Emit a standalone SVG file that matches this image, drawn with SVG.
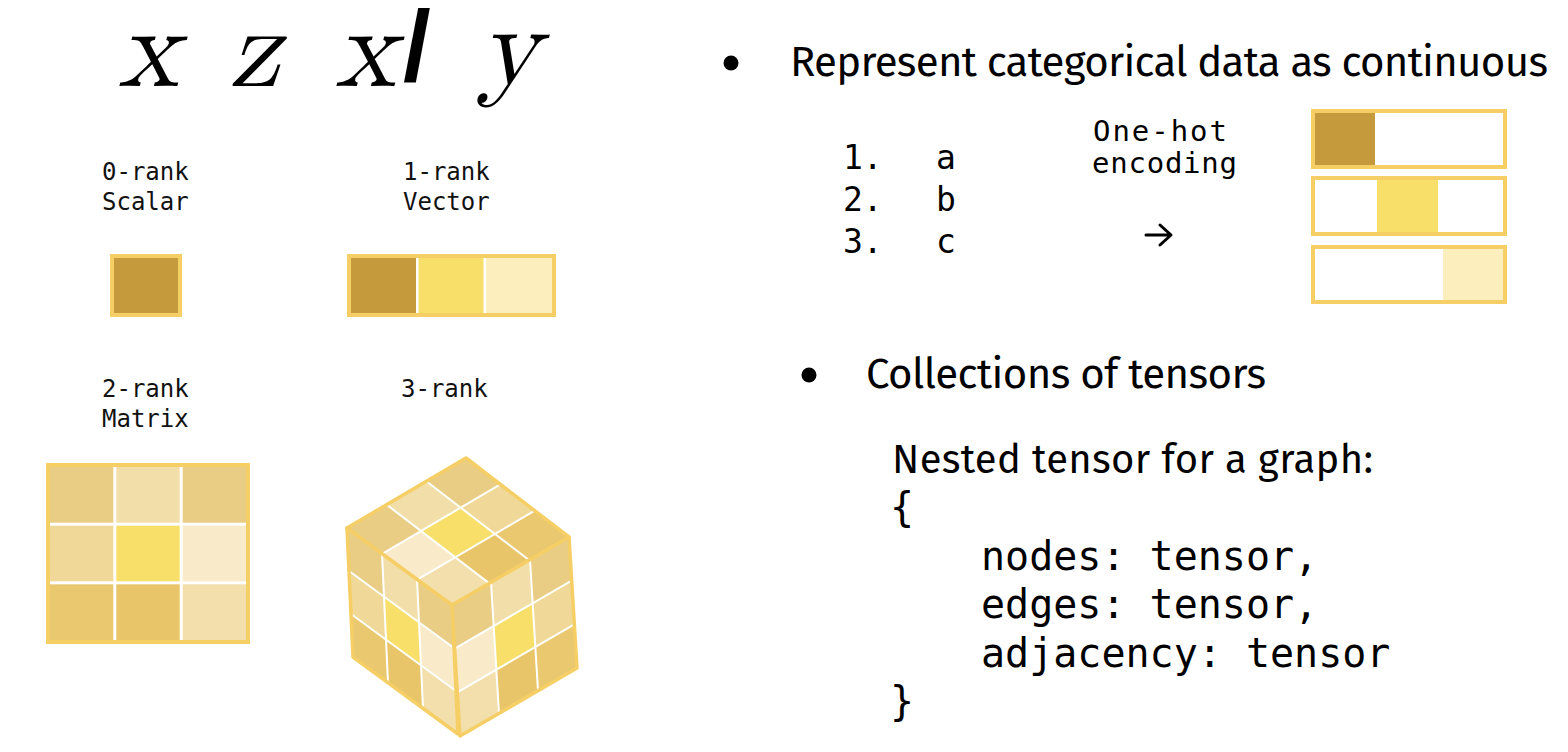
<svg xmlns="http://www.w3.org/2000/svg" width="1568" height="752" viewBox="0 0 1568 752">
<style>
.math{font-family:"Latin Modern Math","Latin Modern Roman","CMU Serif","Liberation Serif",Tinos,"Times New Roman","Noto Serif","DejaVu Serif",serif;font-style:italic;font-size:115px;fill:#000}
.lbl{font-family:"DejaVu Sans Mono","Liberation Mono",monospace;font-size:24px;fill:#111}
.mono{font-family:"DejaVu Sans Mono","Liberation Mono",monospace;fill:#000}
.sans{font-family:"Fira Sans",Lato,"Noto Sans",sans-serif;fill:#000}
.bd{fill:none;stroke:#f5cf66;stroke-width:4}
.dk{fill:#c49a3c}.ye{fill:#f7df6a}.lt{fill:#fcefbd}
.c1{fill:#e9cd84}.c2{fill:#f2dea8}.c3{fill:#f0d898}.c4{fill:#f7df6a}.c5{fill:#f9ebca}.c6{fill:#e9c870}.c7{fill:#e8c568}.c8{fill:#f3dfac}
.gl{stroke:#ffffff;stroke-width:2;fill:none;vector-effect:non-scaling-stroke}
.fo{stroke:#f5cf66;stroke-width:3.5;fill:none;stroke-linejoin:round;vector-effect:non-scaling-stroke}
.prime{font-family:"Liberation Sans","DejaVu Sans",Arial,sans-serif;font-weight:bold;font-size:100px;fill:#000}
</style>
<defs>
<g id="grid">
<path class="gl" d="M1 0V3M2 0V3M0 1H3M0 2H3"/>
<rect class="fo" x="0" y="0" width="3" height="3"/>
</g>
</defs>

<g id="math-symbols">
<text class="math" x="118" y="86">x</text>
<text class="math" x="229" y="86">z</text>
<text class="math" x="335" y="86">x</text>
<text class="prime" x="417" y="81" text-anchor="middle">/</text>
<text class="math" x="479" y="84">y</text>
</g>

<g id="scalar">
<text class="lbl" x="102" y="180">0-rank</text>
<text class="lbl" x="102" y="210">Scalar</text>
<rect class="dk" x="112" y="256" width="68" height="59"/>
<rect class="bd" x="112" y="256" width="68" height="59"/>
</g>

<g id="vector">
<text class="lbl" x="403" y="180">1-rank</text>
<text class="lbl" x="403" y="210">Vector</text>
<rect class="dk" x="351" y="258" width="65" height="55"/>
<rect class="ye" x="418.5" y="258" width="65" height="55"/>
<rect class="lt" x="486" y="258" width="66" height="55"/>
<rect class="bd" x="349" y="256" width="205" height="59"/>
</g>

<g id="matrix">
<text class="lbl" x="102" y="397">2-rank</text>
<text class="lbl" x="102" y="427">Matrix</text>
<rect class="c1" x="50" y="467" width="63.3" height="55.7"/>
<rect class="c2" x="116.3" y="467" width="63.4" height="55.7"/>
<rect class="c1" x="182.7" y="467" width="63.3" height="55.7"/>
<rect class="c3" x="50" y="525.7" width="63.3" height="55.6"/>
<rect class="c4" x="116.3" y="525.7" width="63.4" height="55.6"/>
<rect class="c5" x="182.7" y="525.7" width="63.3" height="55.6"/>
<rect class="c6" x="50" y="584.3" width="63.3" height="55.7"/>
<rect class="c7" x="116.3" y="584.3" width="63.4" height="55.7"/>
<rect class="c8" x="182.7" y="584.3" width="63.3" height="55.7"/>
<rect class="bd" x="48" y="465" width="200" height="177"/>
</g>

<g id="tensor3">
<text class="lbl" x="401" y="397">3-rank</text>
<g id="cube-top" transform="matrix(-39.67 23.33 34.33 26.33 466 458)">
<rect class="c1" x="0" y="0" width="1" height="1"/><rect class="c2" x="1" y="0" width="1" height="1"/><rect class="c1" x="2" y="0" width="1" height="1"/>
<rect class="c3" x="0" y="1" width="1" height="1"/><rect class="c4" x="1" y="1" width="1" height="1"/><rect class="c5" x="2" y="1" width="1" height="1"/>
<rect class="c6" x="0" y="2" width="1" height="1"/><rect class="c7" x="1" y="2" width="1" height="1"/><rect class="c8" x="2" y="2" width="1" height="1"/>
<use href="#grid"/>
</g>
<g id="cube-left" transform="matrix(35 25.67 2 43 347 528)">
<rect class="c1" x="0" y="0" width="1" height="1"/><rect class="c2" x="1" y="0" width="1" height="1"/><rect class="c1" x="2" y="0" width="1" height="1"/>
<rect class="c3" x="0" y="1" width="1" height="1"/><rect class="c4" x="1" y="1" width="1" height="1"/><rect class="c5" x="2" y="1" width="1" height="1"/>
<rect class="c6" x="0" y="2" width="1" height="1"/><rect class="c7" x="1" y="2" width="1" height="1"/><rect class="c8" x="2" y="2" width="1" height="1"/>
<use href="#grid"/>
</g>
<g id="cube-right" transform="matrix(39 -22.67 2.67 43.67 452 605)">
<rect class="c1" x="0" y="0" width="1" height="1"/><rect class="c2" x="1" y="0" width="1" height="1"/><rect class="c1" x="2" y="0" width="1" height="1"/>
<rect class="c5" x="0" y="1" width="1" height="1"/><rect class="c4" x="1" y="1" width="1" height="1"/><rect class="c3" x="2" y="1" width="1" height="1"/>
<rect class="c8" x="0" y="2" width="1" height="1"/><rect class="c7" x="1" y="2" width="1" height="1"/><rect class="c6" x="2" y="2" width="1" height="1"/>
<use href="#grid"/>
</g>
</g>

<g id="bullet-categorical">
<circle cx="731" cy="63" r="7.5" fill="#000"/>
<text class="sans" x="790" y="76" font-size="42" textLength="758">Represent categorical data as continuous</text>
</g>

<g id="category-list">
<text class="mono" font-size="33" y="169"><tspan x="843">1.</tspan><tspan x="936">a</tspan></text>
<text class="mono" font-size="33" y="211"><tspan x="843">2.</tspan><tspan x="936">b</tspan></text>
<text class="mono" font-size="33" y="253"><tspan x="843">3.</tspan><tspan x="936">c</tspan></text>
</g>

<g id="onehot-label">
<text class="mono" font-size="29" x="1093" y="141" textLength="134">One-hot</text>
<text class="mono" font-size="29" x="1092" y="173" textLength="145">encoding</text>
</g>

<g id="connectors">
<path d="M1146 235H1170M1160 225L1171 235L1160 245" fill="none" stroke="#000" stroke-width="3" stroke-linecap="round" stroke-linejoin="round"/>
</g>

<g id="onehot-vectors">
<rect class="dk" x="1315" y="113" width="60" height="52"/>
<rect class="bd" x="1313" y="111" width="192" height="56"/>
<rect class="ye" x="1377" y="180" width="61" height="52"/>
<rect class="bd" x="1313" y="178" width="192" height="56"/>
<rect class="lt" x="1443" y="249" width="60" height="51"/>
<rect class="bd" x="1313" y="247" width="192" height="55"/>
</g>

<g id="bullet-collections">
<circle cx="809" cy="375" r="7.5" fill="#000"/>
<text class="sans" x="866" y="388" font-size="42" textLength="400">Collections of tensors</text>
</g>

<g id="nested-tensor">
<text class="sans" x="892" y="473" font-size="40" textLength="481">Nested tensor for a graph:</text>
<text class="mono" font-size="40" x="890" y="521">{</text>
<text class="mono" font-size="40" x="981" y="570">nodes: tensor,</text>
<text class="mono" font-size="40" x="981" y="618">edges: tensor,</text>
<text class="mono" font-size="40" x="981" y="667">adjacency: tensor</text>
<text class="mono" font-size="40" x="890" y="715">}</text>
</g>
</svg>
